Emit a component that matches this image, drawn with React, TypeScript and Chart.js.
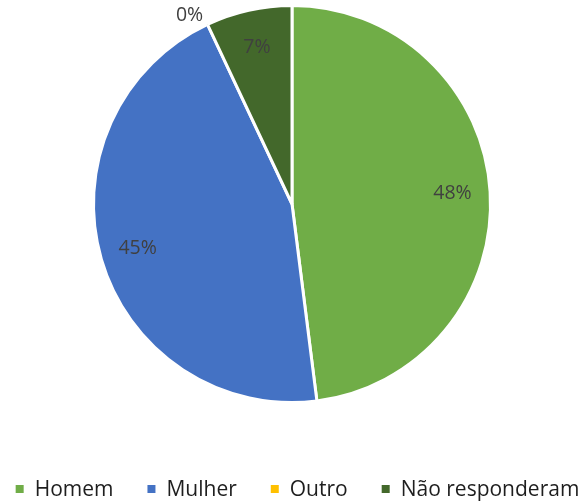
import React, { useEffect, useRef } from 'react';
import { Chart, registerables } from 'chart.js';

Chart.register(...registerables);

const categories = ['Homem', 'Mulher', 'Outro', 'Não responderam'];
const values = [48, 45, 0, 7];
const colors = ['#70AD47', '#4472C4', '#FFC000', '#43682B'];

const FONT = '"Open Sans", "Noto Sans", sans-serif';

const labelPlugin = {
  id: 'sliceLabels',
  afterDatasetsDraw(chart: any) {
    const ctx = chart.ctx;
    const meta = chart.getDatasetMeta(0);
    const data = chart.data.datasets[0].data as number[];
    const total = data.reduce((a, b) => a + b, 0);
    ctx.save();
    ctx.font = `19.5px ${FONT}`;
    ctx.fillStyle = '#404040';
    ctx.textBaseline = 'middle';
    meta.data.forEach((arc: any, i: number) => {
      const p = arc.getProps(['x', 'y', 'startAngle', 'endAngle', 'outerRadius'], true);
      const mid = (p.startAngle + p.endAngle) / 2;
      const pct = Math.round((data[i] / total) * 100) + '%';
      if (data[i] > 0) {
        const r = p.outerRadius * 0.81;
        ctx.textAlign = 'center';
        ctx.fillText(pct, p.x + Math.cos(mid) * r, p.y + Math.sin(mid) * r);
      } else {
        const r = p.outerRadius + 10;
        const x = p.x + Math.cos(mid) * r;
        ctx.textAlign = x < p.x ? 'right' : 'left';
        ctx.fillText(pct, x, p.y + Math.sin(mid) * r);
      }
    });
    ctx.restore();
  },
};

const legendPlugin = {
  id: 'bottomLegend',
  afterDraw(chart: any) {
    const ctx = chart.ctx;
    ctx.save();
    ctx.font = `21px ${FONT}`;
    ctx.textBaseline = 'middle';
    ctx.textAlign = 'left';
    const box = 8;
    const gapBox = 11;
    const gapItem = 34;
    const widths = categories.map((c) => ctx.measureText(c).width);
    const total = widths.reduce((a, w) => a + box + gapBox + w, 0) + gapItem * (categories.length - 1);
    let x = chart.width / 2 + 4 - total / 2;
    const y = 490;
    categories.forEach((c, i) => {
      ctx.fillStyle = colors[i];
      ctx.fillRect(x, y - box / 2 - 1, box, box);
      x += box + gapBox;
      ctx.fillStyle = '#1e1e1e';
      ctx.fillText(c, x, y);
      x += widths[i] + gapItem;
    });
    ctx.restore();
  },
};

export default function App() {
  const ref = useRef<HTMLCanvasElement | null>(null);
  useEffect(() => {
    if (!ref.current) return;
    const chart = new Chart(ref.current, {
      type: 'pie',
      data: {
        labels: categories,
        datasets: [
          {
            data: values,
            backgroundColor: colors,
            borderColor: '#ffffff',
            borderWidth: 3,
          },
        ],
      },
      options: {
        animation: false,
        responsive: true,
        maintainAspectRatio: false,
        rotation: 0,
        layout: { padding: { top: 4, bottom: 99, left: 0, right: 3 } },
        plugins: {
          legend: { display: false },
          tooltip: { enabled: false },
        },
      },
      plugins: [labelPlugin, legendPlugin],
    });
    return () => chart.destroy();
  }, []);
  return (
    <div style={{ position: 'fixed', left: 0, top: 0, width: 587, height: 503, background: '#fff' }}>
      <canvas ref={ref} />
    </div>
  );
}
